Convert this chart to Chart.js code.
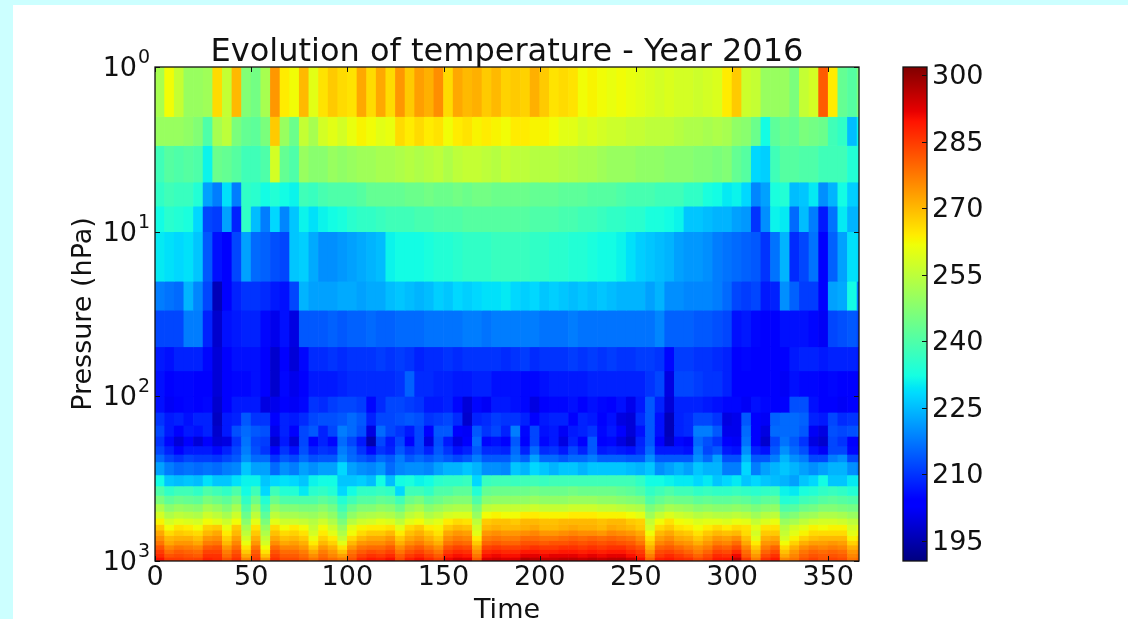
<!DOCTYPE html>
<html>
<head>
<meta charset="utf-8">
<title>Evolution of temperature</title>
<script src="https://cdn.jsdelivr.net/npm/chart.js@4/dist/chart.umd.min.js"></script>
<style>
html, body { margin: 0; width: 1128px; height: 619px; overflow: hidden; background: #ccffff; }
#paper { position: absolute; left: 13px; top: 5px; width: 1115px; height: 614px; background: #fff; }
canvas { position: absolute; top: 0; }
#heat { left: 0; }
#cbar { left: 895px; }
</style>
</head>
<body>
<div id="paper"></div>
<canvas id="heat" width="1128" height="619"></canvas>
<canvas id="cbar" width="233" height="619"></canvas>
<script>
var TITLE = 'Evolution of temperature - Year 2016';
var VMIN = 190.5, VMAX = 301.8;
var colorbarTicks = [195, 210, 225, 240, 255, 270, 285, 300];
var timeTicks = [0, 50, 100, 150, 200, 250, 300, 350];
var pressureExponents = { 1: '0', 10: '1', 100: '2', 1000: '3' };

// centre day of each 5 day column
var days = [2.5,7.5,12.5,17.5,22.5,27.5,32.5,37.5,42.5,47.5,52.5,57.5,62.5,67.5,72.5,77.5,82.5,87.5,92.5,97.5,102.5,107.5,112.5,117.5,122.5,127.5,132.5,137.5,142.5,147.5,152.5,157.5,162.5,167.5,172.5,177.5,182.5,187.5,192.5,197.5,202.5,207.5,212.5,217.5,222.5,227.5,232.5,237.5,242.5,247.5,252.5,257.5,262.5,267.5,272.5,277.5,282.5,287.5,292.5,297.5,302.5,307.5,312.5,317.5,322.5,327.5,332.5,337.5,342.5,347.5,352.5,357.5,362.5,367.5];

// band edges in hPa, one temperature row per band
var pressureEdges = [1,2,3,5,7,10,20,30,50,70,100,125,150,175,200,225,250,300,350,400,450,500,550,600,650,700,750,800,850,900,950,1000];

var t1 = [252,262,256,250,250,251,266,256,270,247,245,252,274,264,262,270,260,265,268,266,265,272,266,272,266,274,268,273,271,275,266,272,270,271,268,270,267,268,267,271,268,265,266,265,262,263,262,261,262,261,260,259,258,259,258,258,257,258,259,264,268,257,256,250,250,250,246,256,258,281,264,243,241,246];
var t2 = [250,250,250,249,247,240,252,255,246,243,242,246,268,250,244,256,252,258,260,258,261,263,262,260,261,266,264,266,264,265,262,264,265,263,264,263,262,264,264,263,263,262,260,260,258,259,258,257,257,256,256,255,255,255,254,253,253,252,253,252,249,248,244,232,242,244,243,246,245,244,238,236,225,231];
var t3 = [238,241,240,241,240,231,244,243,241,238,238,240,258,243,240,250,248,248,250,249,250,251,251,252,252,253,254,253,254,255,253,255,256,256,255,254,256,255,255,254,254,254,253,253,252,252,251,250,250,250,249,249,249,248,248,248,247,247,246,247,243,241,228,227,238,241,241,240,240,238,238,238,234,234];
var t5 = [236,238,237,237,234,222,218,229,218,236,235,232,234,232,231,238,237,239,240,240,240,241,243,243,243,243,244,244,245,244,244,245,244,245,245,244,244,244,244,243,243,243,242,242,242,241,241,241,240,239,239,239,238,238,238,236,236,233,232,230,231,228,219,222,233,234,225,226,230,220,224,232,227,226];
var t7 = [232,235,234,233,228,212,211,222,208,236,225,218,228,219,226,231,229,231,232,233,235,236,236,237,238,238,238,239,239,240,240,240,241,241,241,241,241,241,241,240,240,240,239,239,238,238,237,236,236,235,235,233,233,232,231,226,226,225,224,224,222,221,210,220,231,230,216,225,218,207,217,230,224,224];
var t10 = [230,229,228,229,226,214,206,203,212,222,216,215,213,212,226,227,223,220,220,221,222,223,224,225,231,232,232,232,233,234,234,235,236,236,236,237,237,237,237,236,236,235,235,234,234,233,232,232,231,229,227,226,225,224,222,221,221,220,218,217,216,215,214,210,217,224,209,212,217,203,215,222,229,228];
var t20 = [218,217,216,224,219,212,196,204,208,210,210,209,207,206,212,224,222,222,222,223,223,222,223,223,225,226,225,224,225,227,226,228,227,228,229,229,230,228,227,228,226,227,226,225,226,225,226,225,224,224,224,222,224,220,220,219,219,219,218,216,212,211,212,207,208,220,215,211,211,204,222,223,232,218];
var t30 = [212,212,212,218,218,208,198,206,207,208,208,205,201,206,200,214,214,214,215,214,215,215,216,215,215,216,216,216,217,217,217,217,218,218,217,218,218,218,218,218,217,217,217,218,217,217,217,217,217,217,217,217,219,215,215,215,214,214,213,212,206,207,205,203,203,206,206,206,205,202,212,213,214,212];
var t50 = [207,206,208,208,208,205,199,203,206,206,206,204,198,204,199,205,209,209,210,209,210,210,210,211,210,211,210,208,209,209,210,209,210,210,210,210,209,210,211,209,210,210,210,211,210,211,210,211,210,210,211,211,210,205,211,211,210,210,209,208,203,205,204,204,204,203,207,208,208,207,208,208,208,207];
var t70 = [206,204,205,205,204,204,199,203,205,205,206,203,198,205,201,203,207,207,207,208,209,209,209,209,209,210,215,209,209,208,208,207,207,208,208,206,206,206,205,205,206,207,207,207,207,208,208,208,208,208,208,210,212,200,212,212,211,210,210,208,204,204,203,203,204,202,206,205,205,203,205,204,204,202];
var t100 = [206,202,204,205,204,205,198,203,207,207,207,200,201,203,202,205,210,209,211,212,212,211,205,209,212,212,211,210,207,207,208,205,199,205,202,207,207,206,205,200,204,205,205,206,203,206,205,204,206,201,207,214,208,199,208,208,208,207,206,205,205,202,206,205,204,203,213,213,206,203,204,202,204,203];
var t125 = [210,207,208,206,208,208,197,207,208,214,210,210,204,208,207,209,212,213,213,214,216,214,208,212,212,213,214,213,210,211,212,209,198,208,209,211,210,210,208,204,207,208,208,204,208,207,204,206,200,199,209,214,206,196,208,209,212,212,210,200,201,214,203,202,215,216,216,215,208,207,212,209,210,210];
var t150 = [212,207,203,207,206,208,198,207,213,216,214,213,201,208,203,212,214,208,212,218,216,213,200,216,212,210,207,212,203,214,214,204,202,214,210,212,208,218,205,212,206,207,202,207,208,210,205,207,204,199,206,214,206,196,208,209,218,218,214,201,201,216,203,200,216,216,216,214,202,200,213,212,213,214];
var t175 = [210,205,199,204,199,204,199,200,210,217,212,211,198,207,199,212,204,208,205,216,212,207,195,212,207,212,203,212,200,213,207,200,204,216,205,206,204,214,203,212,205,207,200,208,204,214,204,205,200,197,208,214,203,197,205,202,216,213,210,203,202,217,204,198,212,217,214,210,200,198,212,210,204,202];
var t200 = [212,208,204,207,207,207,205,208,212,218,213,210,203,210,206,213,208,210,209,218,215,210,205,210,208,214,210,212,208,214,210,206,208,214,209,209,208,216,208,216,209,210,207,212,208,214,207,208,207,206,209,216,207,207,207,206,218,212,214,207,206,220,208,206,214,220,216,213,206,202,212,212,205,205];
var t225 = [216,212,210,212,211,211,210,212,214,220,216,216,210,214,212,216,213,214,214,220,216,214,212,216,214,218,214,216,214,216,214,212,214,218,214,214,214,218,215,222,216,216,214,216,216,218,215,215,215,214,214,220,214,214,214,214,220,216,222,213,213,224,214,214,218,224,220,218,212,212,218,220,212,212];
var t250 = [222,218,216,217,216,217,216,218,219,226,222,222,216,220,218,222,220,222,222,228,222,220,219,221,216,219,220,220,219,222,224,224,226,224,220,220,219,226,224,228,226,224,226,226,224,226,226,226,226,225,224,226,220,222,224,222,226,224,224,218,218,228,218,222,224,226,224,222,220,222,224,224,220,218];
var t300 = [232,226,225,226,225,229,226,226,229,231,231,226,228,229,228,226,231,232,232,226,226,227,225,232,225,232,233,231,232,235,236,236,237,228,237,238,238,237,238,238,237,238,238,238,238,238,238,238,238,238,236,232,232,231,230,230,228,230,226,228,230,226,228,226,225,224,222,226,228,232,226,226,230,230];
var t350 = [240,236,238,238,236,240,238,236,240,232,238,228,238,234,234,230,235,236,234,228,232,236,236,237,236,228,238,238,236,240,240,242,242,234,243,244,244,244,244,245,244,244,244,245,244,244,244,244,243,242,240,236,238,240,238,238,236,237,236,236,237,236,235,236,237,231,230,233,234,236,237,236,234,234];
var t400 = [246,242,244,243,242,246,244,242,246,236,244,234,244,240,240,240,240,242,240,234,238,241,241,243,242,238,244,246,242,244,246,247,247,240,248,249,249,249,249,250,249,249,249,250,250,250,249,249,248,247,246,240,243,245,244,244,242,243,242,242,243,242,240,242,243,234,235,238,239,241,242,241,240,240];
var t450 = [253,248,250,249,248,252,250,247,252,240,250,238,250,247,247,246,246,248,245,238,244,247,247,249,248,244,250,252,248,250,252,253,253,246,255,256,256,256,256,257,256,256,256,257,257,257,256,256,255,254,253,246,249,252,251,250,248,249,248,248,249,248,246,248,249,240,241,244,245,247,247,246,245,245];
var t500 = [258,253,255,254,253,257,255,252,257,244,255,242,255,252,252,251,250,252,249,242,249,252,253,254,253,250,255,257,253,255,258,259,259,250,262,263,262,262,264,264,263,263,263,264,264,264,263,263,263,262,260,251,256,259,257,256,254,255,254,254,255,254,251,254,255,245,247,250,251,253,253,252,250,250];
var t550 = [263,258,260,259,258,262,260,257,262,248,260,246,260,257,257,256,254,257,253,246,254,257,258,260,259,255,260,262,258,260,264,266,265,255,268,269,269,268,270,270,269,269,270,270,270,270,269,270,270,268,267,256,262,265,262,261,259,260,260,259,261,260,256,259,261,250,252,255,257,258,258,257,255,255];
var t600 = [268,262,265,264,262,267,268,261,268,252,265,250,266,262,264,262,256,262,257,250,260,263,264,264,265,260,266,268,264,263,268,270,269,258,270,271,270,270,271,272,270,270,271,272,271,271,270,272,271,270,268,258,266,268,265,264,262,264,266,264,266,265,260,265,265,254,258,260,263,262,263,263,258,260];
var t650 = [272,266,268,267,266,270,272,264,270,255,268,253,269,266,267,265,258,264,260,253,262,266,268,268,270,264,269,271,268,265,272,274,273,260,274,275,274,274,275,276,274,274,275,276,275,275,274,276,275,274,272,262,270,272,269,268,265,268,270,269,270,266,258,268,268,256,260,263,266,266,266,266,260,263];
var t700 = [275,270,271,271,269,274,275,267,273,258,271,256,272,269,270,268,261,267,264,256,266,270,272,272,274,268,272,274,271,268,275,277,276,264,277,278,277,277,279,279,278,278,279,280,279,280,279,280,279,278,275,265,273,275,272,271,268,271,274,273,275,269,260,271,272,258,263,267,269,270,270,270,263,266];
var t750 = [278,272,274,274,272,277,278,270,276,261,274,258,275,272,273,271,264,270,267,260,270,274,275,275,277,271,275,277,274,271,278,280,279,268,280,281,280,280,282,282,281,282,282,283,282,283,282,283,282,281,278,268,276,278,275,274,271,274,277,276,279,272,264,274,275,262,267,271,273,273,274,273,267,270];
var t800 = [282,276,278,277,276,281,282,274,279,265,278,262,279,276,276,274,268,274,271,265,274,278,279,279,281,275,279,281,278,275,282,284,283,272,284,285,284,284,285,286,285,285,286,286,285,286,285,286,286,284,282,271,280,281,279,277,275,277,281,280,283,276,268,277,280,266,271,275,277,276,277,276,271,273];
var t850 = [285,279,281,280,279,284,284,277,282,268,281,265,282,279,279,277,272,277,274,269,278,281,283,282,284,278,282,284,281,278,285,287,286,275,287,288,287,287,289,289,288,288,289,289,288,289,288,289,289,287,285,274,283,284,282,280,277,280,284,283,287,279,271,280,283,269,274,278,280,279,280,279,274,276];
var t900 = [287,282,283,282,281,286,286,279,284,272,283,269,284,281,281,279,275,279,276,273,280,284,286,285,287,281,285,287,284,281,288,290,289,278,290,291,290,290,292,292,291,292,292,292,291,292,291,292,292,290,287,277,285,287,285,283,280,283,287,286,291,281,274,283,286,272,276,280,282,281,282,281,276,278];
var t950 = [290,285,285,284,284,288,287,282,286,276,285,274,286,283,283,281,278,281,279,277,282,287,289,288,290,283,288,290,287,284,291,293,292,281,293,294,293,293,297,296,295,295,296,296,295,296,295,296,296,294,290,280,288,289,287,286,283,285,289,289,295,285,277,286,289,276,278,282,284,282,284,283,278,280];

var bandTemps = [t1,t2,t3,t5,t7,t10,t20,t30,t50,t70,t100,t125,t150,t175,t200,t225,t250,t300,t350,t400,t450,t500,t550,t600,t650,t700,t750,t800,t850,t900,t950];

// matplotlib jet
function segment(f, pts) {
	for (var i = 1; i < pts.length; i++) {
		if (f <= pts[i][0]) {
			return pts[i - 1][1] + (pts[i][1] - pts[i - 1][1]) * (f - pts[i - 1][0]) / (pts[i][0] - pts[i - 1][0]);
		}
	}
	return pts[pts.length - 1][1];
}
function jet(f) {
	f = Math.max(0, Math.min(1, f));
	var r = segment(f, [[0, 0], [.35, 0], [.66, 1], [.89, 1], [1, .5]]);
	var g = segment(f, [[0, 0], [.125, 0], [.375, 1], [.64, 1], [.91, 0], [1, 0]]);
	var b = segment(f, [[0, .5], [.11, 1], [.34, 1], [.65, 0], [1, 0]]);
	return 'rgb(' + Math.round(r * 255) + ',' + Math.round(g * 255) + ',' + Math.round(b * 255) + ')';
}
function tempColor(v) { return jet((v - VMIN) / (VMAX - VMIN)); }

var FONT = '"DejaVu Sans", sans-serif';
var INK = '#111';

function line(ctx, x1, y1, x2, y2) {
	ctx.beginPath();
	ctx.moveTo(x1, y1);
	ctx.lineTo(x2, y2);
	ctx.stroke();
}

// vertical tick labels sit 2px low in the original
var nudgeLabels = {
	id: 'nudgeLabels',
	beforeDraw: function (chart) {
		chart.scales.y.getLabelItems().forEach(function (item) { item.textOffset = 2; });
	}
};

var heatFrame = {
	id: 'heatFrame',
	afterDraw: function (chart) {
		var ctx = chart.ctx, a = chart.chartArea, sy = chart.scales.y;
		ctx.save();
		ctx.strokeStyle = INK;
		ctx.lineWidth = 1;
		chart.scales.x.ticks.forEach(function (t) {
			var px = Math.round(chart.scales.x.getPixelForValue(t.value)) + 0.5;
			line(ctx, px, a.bottom, px, a.bottom - 5);
			line(ctx, px, a.top, px, a.top + 5);
		});
		sy.ticks.forEach(function (t) {
			var py = Math.round(sy.getPixelForValue(t.value)) + 0.5;
			var len = pressureExponents[t.value] ? 5 : 3;
			line(ctx, a.left, py, a.left + len, py);
			line(ctx, a.right, py, a.right - len, py);
		});
		ctx.lineWidth = 1.3;
		ctx.strokeRect(a.left, a.top, a.right - a.left, a.bottom - a.top);
		// raised exponents of the 10^n tick labels
		ctx.fillStyle = INK;
		ctx.font = '19px ' + FONT;
		ctx.textAlign = 'left';
		ctx.textBaseline = 'alphabetic';
		Object.keys(pressureExponents).forEach(function (p) {
			ctx.fillText(pressureExponents[p], 138, sy.getPixelForValue(Number(p)) - 4);
		});
		ctx.restore();
	}
};

new Chart(document.getElementById('heat'), {
	type: 'bar',
	data: {
		datasets: bandTemps.map(function (temps, i) {
			return {
				data: temps.map(function (v, j) {
					return { x: days[j], y: [pressureEdges[i], pressureEdges[i + 1]] };
				}),
				backgroundColor: temps.map(tempColor),
				grouped: false,
				barPercentage: 1,
				categoryPercentage: 1
			};
		})
	},
	options: {
		responsive: false,
		animation: false,
		events: [],
		layout: { padding: { left: 0, right: 269, top: 0, bottom: 0 } },
		plugins: {
			legend: { display: false },
			tooltip: { enabled: false },
			title: {
				display: true,
				text: TITLE,
				fullSize: false,
				color: INK,
				font: { family: FONT, size: 32, weight: 'normal', lineHeight: 1 },
				padding: { top: 37, bottom: -2 }
			}
		},
		scales: {
			x: {
				type: 'linear',
				offset: false,
				min: 0,
				max: 366,
				grid: { display: false, drawTicks: false },
				border: { display: false },
				afterBuildTicks: function (axis) {
					axis.ticks = timeTicks.map(function (v) { return { value: v }; });
				},
				ticks: {
					autoSkip: false,
					maxRotation: 0,
					padding: 1,
					color: INK,
					font: { family: FONT, size: 27 }
				},
				title: {
					display: true,
					text: 'Time',
					color: INK,
					font: { family: FONT, size: 27, lineHeight: 1 },
					padding: { top: 0, bottom: -5 }
				},
				afterFit: function (axis) { axis.height = 58; }
			},
			y: {
				type: 'logarithmic',
				reverse: true,
				min: 1,
				max: 1000,
				grid: { display: false, drawTicks: false },
				border: { display: false },
				ticks: {
					autoSkip: false,
					padding: 18,
					color: INK,
					font: { family: FONT, size: 27 },
					callback: function (v) { return pressureExponents[v] ? '10' : null; }
				},
				title: {
					display: true,
					text: 'Pressure (hPa)',
					color: INK,
					font: { family: FONT, size: 27, lineHeight: 1 },
					padding: { top: 70, bottom: 0 }
				},
				afterFit: function (axis) { axis.width = 155; }
			}
		}
	},
	plugins: [nudgeLabels, heatFrame]
});

var jetStops = [0, .11, .125, .34, .35, .375, .64, .65, .66, .89, .91, 1];

var barFrame = {
	id: 'barFrame',
	afterDraw: function (chart) {
		var ctx = chart.ctx, a = chart.chartArea;
		ctx.save();
		ctx.strokeStyle = INK;
		ctx.lineWidth = 1;
		chart.scales.y.ticks.forEach(function (t) {
			var py = Math.round(chart.scales.y.getPixelForValue(t.value)) + 0.5;
			line(ctx, a.right, py, a.right - 5, py);
		});
		ctx.lineWidth = 1.3;
		ctx.strokeRect(a.left, a.top, a.right - a.left, a.bottom - a.top);
		ctx.restore();
	}
};

new Chart(document.getElementById('cbar'), {
	type: 'bar',
	data: {
		labels: ['T'],
		datasets: [{
			data: [[VMIN, VMAX]],
			barPercentage: 1,
			categoryPercentage: 1,
			backgroundColor: function (c) {
				var a = c.chart.chartArea;
				if (!a) return '#00f';
				var g = c.chart.ctx.createLinearGradient(0, a.bottom, 0, a.top);
				jetStops.forEach(function (s) { g.addColorStop(s, jet(s)); });
				return g;
			}
		}]
	},
	options: {
		responsive: false,
		animation: false,
		events: [],
		layout: { padding: { left: 8, right: 0, top: 67, bottom: 58 } },
		plugins: { legend: { display: false }, tooltip: { enabled: false } },
		scales: {
			x: { display: false },
			y: {
				position: 'right',
				min: VMIN,
				max: VMAX,
				grid: { display: false, drawTicks: false },
				border: { display: false },
				afterBuildTicks: function (axis) {
					axis.ticks = colorbarTicks.map(function (v) { return { value: v }; });
				},
				ticks: {
					autoSkip: false,
					padding: 5,
					color: INK,
					font: { family: FONT, size: 27 }
				},
				afterFit: function (axis) { axis.width = 201; }
			}
		}
	},
	plugins: [nudgeLabels, barFrame]
});
</script>
</body>
</html>
